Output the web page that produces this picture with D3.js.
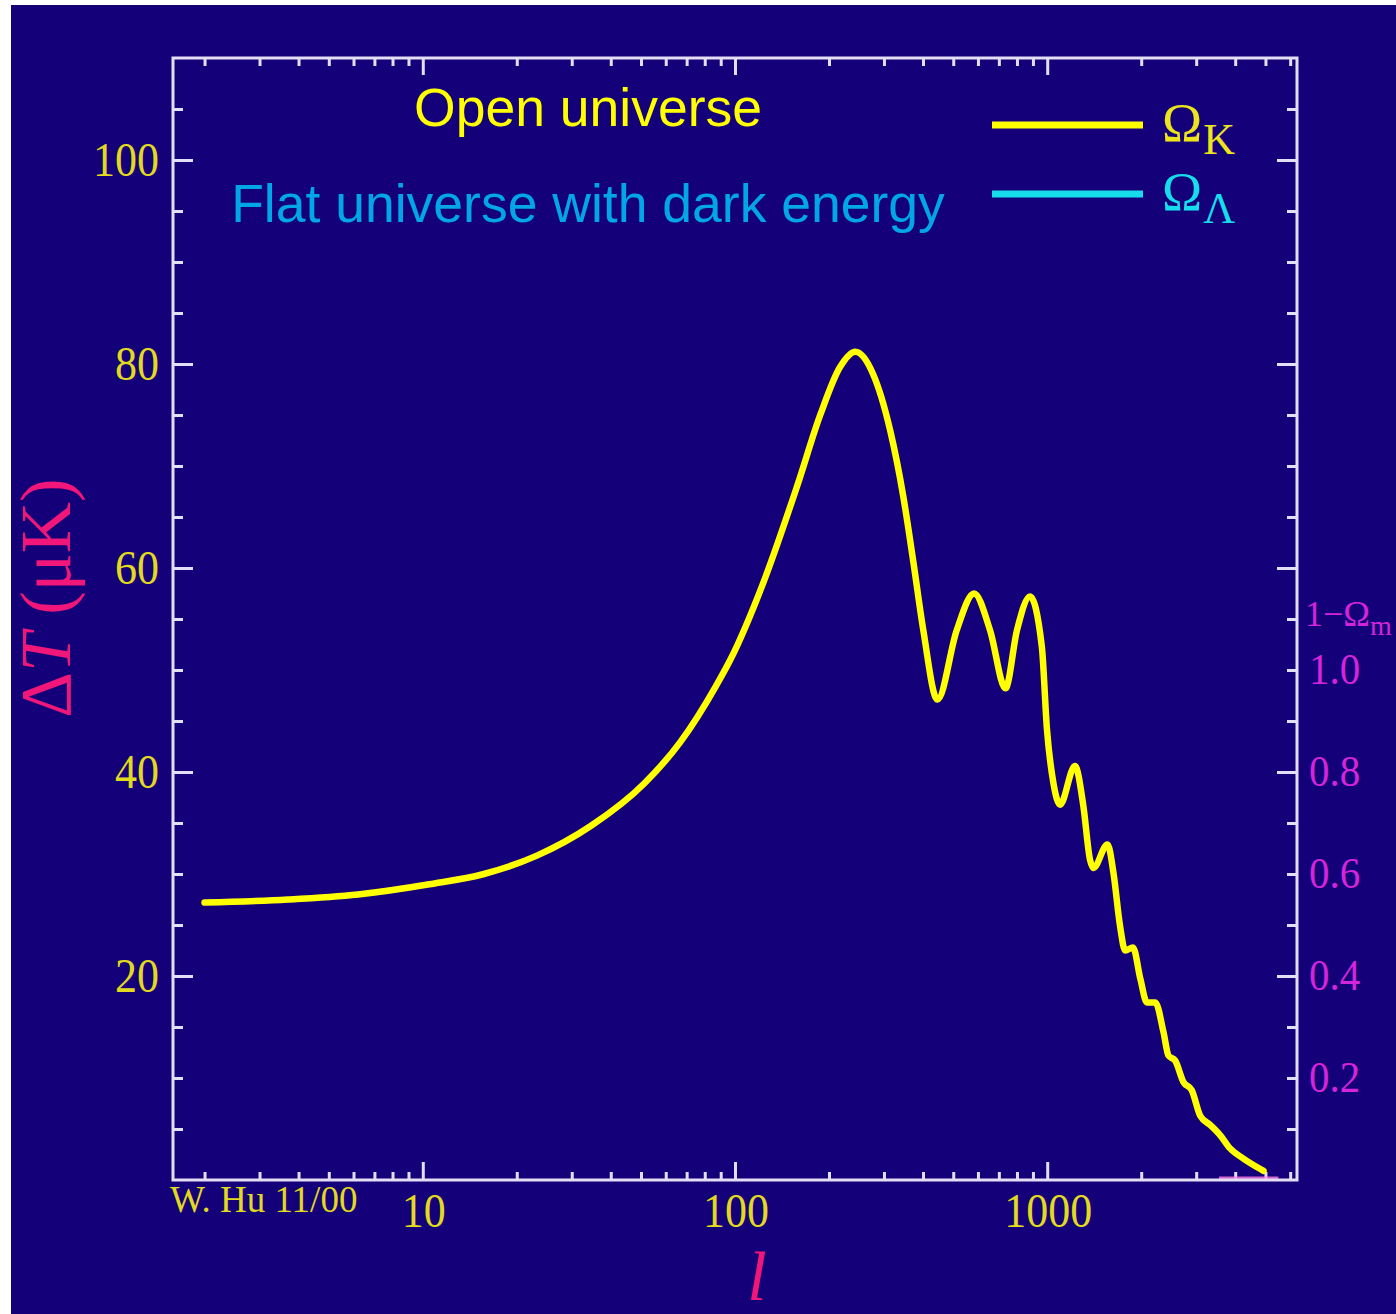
<!DOCTYPE html>
<html>
<head>
<meta charset="utf-8">
<script src="https://cdn.jsdelivr.net/npm/d3@7"></script>
<style>
  html, body { margin: 0; padding: 0; background: #ffffff; }
  svg { display: block; }
</style>
</head>
<body>
<svg id="chart" width="1396" height="1314"></svg>
<script>
// Multipole moment l of the temperature power spectrum
const multipoles = [2, 3.7, 6.2, 10.5, 15.7, 23.2, 34.5, 51.3, 66.7, 86.8, 96.6, 123, 158, 188, 217, 243,
  277, 314, 346, 373, 401, 445, 513, 583, 656, 735, 800, 881, 961, 998, 1047, 1099, 1227, 1305,
  1371, 1406, 1560, 1630, 1711, 1777, 1882, 1988, 2086, 2219, 2357, 2445, 2570, 2731, 2904,
  3090, 3325, 3578, 3852, 4249, 4800, 4930];
// Temperature anisotropy ΔT (μK) at each multipole
const deltaT = [27.2, 27.5, 28.0, 29.0, 30.0, 31.8, 34.7, 38.9, 42.9, 48.4, 51.0, 58.5, 68.0, 75.1, 79.7, 81.2,
  79.0, 73.5, 67.0, 60.5, 53.9, 47.1, 53.9, 57.5, 53.9, 48.2, 53.9, 57.2, 52.3, 44.2, 38.9, 36.8, 40.6, 36.7,
  31.4, 30.6, 32.9, 30.1, 24.9, 22.5, 22.8, 19.7, 17.4, 17.4, 14.5, 12.2, 11.7, 9.6, 8.8,
  6.3, 5.4, 4.4, 3.1, 2.1, 1.1, 0.9];

// Short 1−Ωm trace that lies on the bottom axis
const omegaMTailL = [3550, 5500];
const omegaMTailT = [0.2, 0.2];

// Axis ticks and labels
const yMajorTicks = [20, 40, 60, 80, 100];
const yMinorTicks = [5, 10, 15, 25, 30, 35, 45, 50, 55, 65, 70, 75, 85, 90, 95, 105];
const xMajorTicks = [10, 100, 1000];
const xLabels = ["10", "100", "1000"];
const rightLabelValues = [10, 20, 30, 40, 50];
const rightLabels = ["0.2", "0.4", "0.6", "0.8", "1.0"];

// Legend entries
const legendNames = ["K", "Λ"];
const legendColors = ["#ffff00", "#16dcec"];
const legendTextColors = ["#ece41c", "#16dcec"];

const svg = d3.select("#chart");
const W = 1396, H = 1314;
const frame = { left: 173, top: 58, right: 1297, bottom: 1180 };

const BG = "#140078";
const AXIS = "#e4def4";
const LABEL_YELLOW = "#e2da1e";
const PINK = "#f0167a";
const MAGENTA = "#d424dc";

svg.append("rect").attr("width", W).attr("height", H).attr("fill", "#ffffff");
svg.append("rect").attr("x", 11).attr("y", 5).attr("width", W - 11).attr("height", H - 5).attr("fill", BG);

const x = d3.scaleLog().domain([Math.pow(10, 0.2), Math.pow(10, 3.8)]).range([frame.left, frame.right]);
const y = d3.scaleLinear().domain([0, 110]).range([frame.bottom, frame.top]);

// minor x ticks: 2..9 in each decade
const xMinorTicks = [];
[1, 10, 100, 1000].forEach(dec => {
  for (let k = 2; k <= 9; k++) {
    const v = k * dec;
    if (v >= x.domain()[0] && v <= x.domain()[1]) xMinorTicks.push(v);
  }
});

function styleAxis(g) {
  g.select(".domain").remove();
  g.selectAll(".tick line").attr("stroke", AXIS).attr("stroke-width", 3);
  g.selectAll(".tick text").remove();
}

// Ticks pointing inward on all four sides
svg.append("g").attr("transform", `translate(0,${frame.bottom})`)
  .call(d3.axisBottom(x).tickValues(xMinorTicks).tickSize(-8)).call(styleAxis);
svg.append("g").attr("transform", `translate(0,${frame.bottom})`)
  .call(d3.axisBottom(x).tickValues(xMajorTicks).tickSize(-18)).call(styleAxis);
svg.append("g").attr("transform", `translate(0,${frame.top})`)
  .call(d3.axisTop(x).tickValues(xMinorTicks).tickSize(-8)).call(styleAxis);
svg.append("g").attr("transform", `translate(0,${frame.top})`)
  .call(d3.axisTop(x).tickValues(xMajorTicks).tickSize(-17)).call(styleAxis);

svg.append("g").attr("transform", `translate(${frame.left},0)`)
  .call(d3.axisLeft(y).tickValues(yMinorTicks).tickSize(-10)).call(styleAxis);
svg.append("g").attr("transform", `translate(${frame.left},0)`)
  .call(d3.axisLeft(y).tickValues(yMajorTicks).tickSize(-20)).call(styleAxis);
svg.append("g").attr("transform", `translate(${frame.right},0)`)
  .call(d3.axisRight(y).tickValues(yMinorTicks).tickSize(-10)).call(styleAxis);
svg.append("g").attr("transform", `translate(${frame.right},0)`)
  .call(d3.axisRight(y).tickValues(yMajorTicks).tickSize(-20)).call(styleAxis);

// Faint magenta trace along the bottom axis
const tail = omegaMTailL.map((l, i) => ({ l, t: omegaMTailT[i] }));
svg.append("path")
  .datum(tail)
  .attr("d", d3.line().x(d => x(d.l)).y(d => y(d.t)))
  .attr("stroke", "#ff7ee6").attr("stroke-width", 3).attr("opacity", 0.8).attr("fill", "none");

// Frame
svg.append("rect")
  .attr("x", frame.left).attr("y", frame.top)
  .attr("width", frame.right - frame.left).attr("height", frame.bottom - frame.top)
  .attr("fill", "none").attr("stroke", AXIS).attr("stroke-width", 3);

// Left axis labels
svg.append("g").selectAll("text").data(yMajorTicks).join("text")
  .attr("transform", d => `translate(${frame.left - 14},${y(d) + 16}) scale(1,1.1)`)
  .attr("text-anchor", "end")
  .attr("font-family", "'Liberation Serif', 'DejaVu Serif', serif")
  .attr("font-size", 44).attr("fill", LABEL_YELLOW)
  .text(d => d);

// Bottom axis labels
svg.append("g").selectAll("text").data(xMajorTicks).join("text")
  .attr("transform", (d, i) => `translate(${x(d) + 1},${frame.bottom + 47}) scale(1,1.1)`)
  .attr("text-anchor", "middle")
  .attr("font-family", "'Liberation Serif', 'DejaVu Serif', serif")
  .attr("font-size", 44).attr("fill", LABEL_YELLOW)
  .text((d, i) => xLabels[i]);

// Right axis (1−Ωm) labels
svg.append("g").selectAll("text").data(rightLabelValues).join("text")
  .attr("transform", d => `translate(${frame.right + 12},${y(d) + 14}) scale(1,1.08)`)
  .attr("text-anchor", "start")
  .attr("font-family", "'Liberation Serif', 'DejaVu Serif', serif")
  .attr("font-size", 41).attr("fill", MAGENTA)
  .text((d, i) => rightLabels[i]);

const omLabel = svg.append("text")
  .attr("x", frame.right + 8).attr("y", y(55.2) + 9)
  .attr("font-family", "'Liberation Serif', 'DejaVu Serif', serif")
  .attr("font-size", 36).attr("fill", MAGENTA);
omLabel.append("tspan").text("1−Ω");
omLabel.append("tspan").attr("font-size", 28).attr("dy", 9).text("m");

// Credit
svg.append("text")
  .attr("x", 170).attr("y", 1212)
  .attr("font-family", "'Liberation Serif', 'DejaVu Serif', serif")
  .attr("font-size", 37).attr("fill", LABEL_YELLOW)
  .text("W. Hu 11/00");

// Axis titles
svg.append("text")
  .attr("x", 757).attr("y", 1300)
  .attr("text-anchor", "middle")
  .attr("font-family", "'Liberation Serif', 'DejaVu Serif', serif")
  .attr("font-style", "italic")
  .attr("font-size", 70).attr("fill", PINK)
  .text("l");

const yTitle = svg.append("text")
  .attr("transform", "translate(70,598) rotate(-90)")
  .attr("text-anchor", "middle")
  .attr("font-family", "'Liberation Serif', 'DejaVu Serif', serif")
  .attr("font-size", 71).attr("fill", PINK);
yTitle.append("tspan").text("Δ");
yTitle.append("tspan").attr("font-style", "italic").text("T");
yTitle.append("tspan").text(" (μK)");

// Annotations
svg.append("text")
  .attr("x", 588).attr("y", 126)
  .attr("text-anchor", "middle")
  .attr("font-family", "'Liberation Sans', Arial, sans-serif")
  .attr("font-size", 53.5).attr("fill", "#ffff00")
  .text("Open universe");
svg.append("text")
  .attr("x", 588).attr("y", 222)
  .attr("text-anchor", "middle")
  .attr("font-family", "'Liberation Sans', Arial, sans-serif")
  .attr("font-size", 53.5).attr("fill", "#00a6e6")
  .text("Flat universe with dark energy");

// Legend
const legendY = [125, 194];
legendNames.forEach((name, i) => {
  svg.append("line")
    .attr("x1", 992).attr("x2", 1143)
    .attr("y1", legendY[i]).attr("y2", legendY[i])
    .attr("stroke", legendColors[i]).attr("stroke-width", 7);
  const t = svg.append("text")
    .attr("x", 1162).attr("y", legendY[i] + 16)
    .attr("font-family", "'Liberation Serif', 'DejaVu Serif', serif")
    .attr("font-size", 54).attr("fill", legendTextColors[i]);
  t.append("tspan").text("Ω");
  t.append("tspan").attr("font-size", 44).attr("dx", 1).attr("dy", 13).text(name);
});

// Power spectrum curve
const spectrum = multipoles.map((l, i) => ({ l, t: deltaT[i] }));
svg.append("path")
  .datum(spectrum)
  .attr("d", d3.line().x(d => x(d.l)).y(d => y(d.t)).curve(d3.curveMonotoneX))
  .attr("fill", "none")
  .attr("stroke", "#ffff00")
  .attr("stroke-width", 6.5)
  .attr("stroke-linecap", "round")
  .attr("stroke-linejoin", "round");
</script>
</body>
</html>
